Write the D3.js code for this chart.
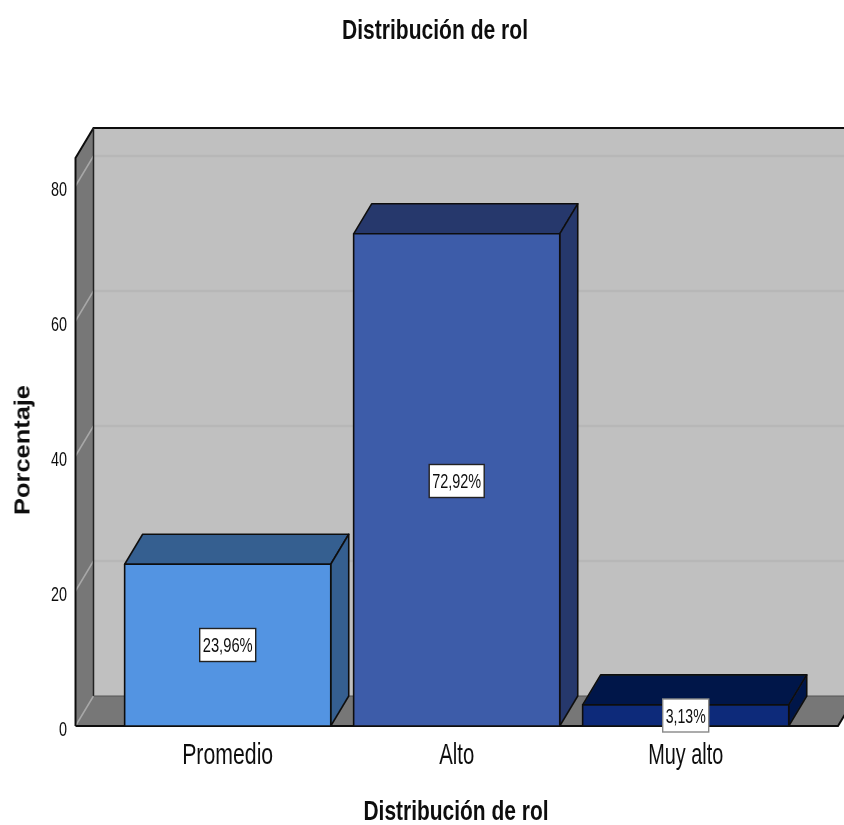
<!DOCTYPE html>
<html><head><meta charset="utf-8">
<script src="https://cdn.jsdelivr.net/npm/d3@7"></script>
<style>html,body{margin:0;padding:0;background:#fff;overflow:hidden}svg{display:block}text{font-family:"Liberation Sans",Arial,sans-serif;fill:#111}</style>
</head><body><svg id="c" width="844" height="825"></svg>
<script>
const categories = ["Promedio", "Alto", "Muy alto"];
const values = [23.96, 72.92, 3.13];
const valueLabels = ["23,96%", "72,92%", "3,13%"];
const frontColors = ["#5294e2", "#3e5ba9", "#0c2a7a"];
const topColors = ["#345e90", "#28396c", "#061848"];
const sideColors = ["#345e90", "#28396c", "#061848"];
const yTicks = [0, 20, 40, 60, 80];
const titleText = "Distribución de rol";
const xTitleText = "Distribución de rol";
const yTitleText = "Porcentaje";

const svg = d3.select("#c");
const defs = svg.append("defs");
defs.append("filter").attr("id", "soft").append("feGaussianBlur").attr("stdDeviation", 0.5);
const g = svg.append("g").attr("filter", "url(#soft)");

const dx = 18, dy = -30;
const y = d3.scaleLinear().domain([0, 80]).range([726, 186]);
const x = d3.scaleBand().domain(categories).range([113.2, 800.2]).paddingInner(0.1).paddingOuter(0.05);
const left = 75.5, right = 856, topV = 84.15;
const line = d3.line();
const ink = "#111";

// back wall, side wall, floor
g.append("path").attr("d", line([[left+dx,y(topV)+dy],[right+20,y(topV)+dy],[right+20,y(0)+dy],[left+dx,y(0)+dy]])+"Z").attr("fill", "#c0c0c0");
g.append("path").attr("d", line([[left,y(topV)],[left+dx,y(topV)+dy],[left+dx,y(0)+dy],[left,y(0)]])+"Z").attr("fill", "#777");
g.append("path").attr("d", line([[left,y(0)],[left+dx,y(0)+dy],[right,y(0)+dy],[right-dx,y(0)]])+"Z").attr("fill", "#777");

// gridlines
yTicks.slice(1).forEach(t => {
  g.append("path").attr("d", line([[left+dx,y(t)+dy],[right+20,y(t)+dy]])).attr("stroke", "#b7b7b7").attr("stroke-width", 2.5).attr("fill", "none");
  g.append("path").attr("d", line([[left,y(t)],[left+dx,y(t)+dy]])).attr("stroke", "#a8a8a8").attr("stroke-width", 1.5).attr("fill", "none");
});
g.append("path").attr("d", line([[left,y(0)],[left+dx,y(0)+dy]])).attr("stroke", "#a8a8a8").attr("stroke-width", 1.5).attr("fill", "none");

// frame
g.append("path").attr("d", line([[left,y(0)],[left,y(topV)],[left+dx,y(topV)+dy],[right+20,y(topV)+dy]])).attr("stroke", ink).attr("stroke-width", 2).attr("fill", "none");
g.append("path").attr("d", line([[left+dx,y(topV)+dy],[left+dx,y(0)+dy]])).attr("stroke", "#222").attr("stroke-width", 1.5).attr("fill", "none");
g.append("path").attr("d", line([[left+dx,y(0)+dy],[right,y(0)+dy]])).attr("stroke", "#555").attr("stroke-width", 1).attr("fill", "none");
g.append("path").attr("d", line([[left,y(0)],[right-dx,y(0)],[right,y(0)+dy]])).attr("stroke", ink).attr("stroke-width", 2).attr("fill", "none");

// bars
categories.forEach((c, i) => {
  const x0 = x(c), x1 = x0 + x.bandwidth(), yt = y(values[i]), yb = y(0);
  const b = g.append("g").attr("stroke", ink).attr("stroke-width", 1.6).attr("stroke-linejoin", "round");
  b.append("path").attr("d", line([[x0,yt],[x0+dx,yt+dy],[x1+dx,yt+dy],[x1,yt]])+"Z").attr("fill", topColors[i]);
  b.append("path").attr("d", line([[x1,yt],[x1+dx,yt+dy],[x1+dx,yb+dy],[x1,yb]])+"Z").attr("fill", sideColors[i]);
  b.append("path").attr("d", line([[x0,yt],[x1,yt],[x1,yb],[x0,yb]])+"Z").attr("fill", frontColors[i]);
});

function fitText(sel, len) { return sel.attr("textLength", len).attr("lengthAdjust", "spacingAndGlyphs"); }

// value labels
const labelCy = [645, 481, 715.5];
const labelW = [56, 55, 46];
categories.forEach((c, i) => {
  const cx = x(c) + x.bandwidth()/2;
  g.append("rect").attr("x", cx-labelW[i]/2).attr("y", labelCy[i]-16.5).attr("width", labelW[i]).attr("height", 33)
    .attr("fill", "#fff").attr("stroke", i===2 ? "#888" : "#222").attr("stroke-width", 1.4);
  fitText(g.append("text").attr("x", cx).attr("y", labelCy[i]+7).attr("text-anchor", "middle").attr("font-size", 20).text(valueLabels[i]), labelW[i]-6);
});

// y tick labels
const yLabelW = {0: 8, 20: 16, 40: 16, 60: 16, 80: 16};
yTicks.forEach(t => {
  fitText(g.append("text").attr("x", 67).attr("y", y(t)+10).attr("text-anchor", "end").attr("font-size", 20).attr("fill", "#222").text(t), yLabelW[t]);
});

// x category labels
const catW = [91, 35, 75];
categories.forEach((c, i) => {
  const cx = x(c) + x.bandwidth()/2;
  fitText(g.append("text").attr("x", cx).attr("y", 764).attr("text-anchor", "middle").attr("font-size", 29).attr("fill", "#222").text(c), catW[i]);
});

// titles
fitText(g.append("text").attr("x", 435).attr("y", 39).attr("text-anchor", "middle").attr("font-size", 27).attr("font-weight", "bold").text(titleText), 186);
fitText(g.append("text").attr("x", 456).attr("y", 819.5).attr("text-anchor", "middle").attr("font-size", 27).attr("font-weight", "bold").text(xTitleText), 185);
fitText(g.append("text").attr("transform", "translate(29.5,450) rotate(-90)").attr("text-anchor", "middle").attr("font-size", 22).attr("font-weight", "bold").text(yTitleText), 130);
</script></body></html>
